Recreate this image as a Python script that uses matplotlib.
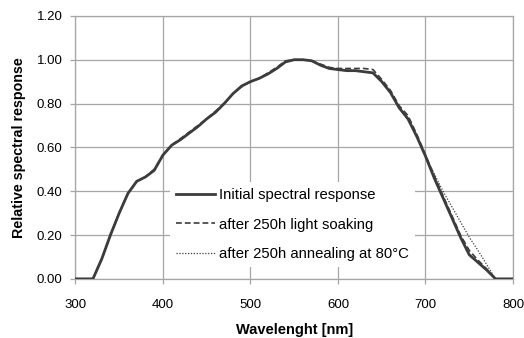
import matplotlib
matplotlib.use("Agg")
import matplotlib.pyplot as plt

plt.rcParams['font.family'] = ['Liberation Sans', 'DejaVu Sans']

# spectral response curves, wavelength in nm
wavelength = [300, 310, 320, 330, 340, 350, 360, 370, 380, 390,
              400, 410, 420, 430, 440, 450, 460, 470, 480, 490,
              500, 510, 520, 530, 540, 550, 560, 570, 580, 590,
              600, 610, 620, 630, 640, 650, 660, 670, 680, 690,
              700, 710, 720, 730, 740, 750, 760, 770, 780, 790, 800]
initial = [0, 0, 0, 0.09, 0.20, 0.30, 0.39, 0.445, 0.465, 0.495,
           0.565, 0.61, 0.635, 0.665, 0.695, 0.73, 0.76, 0.80, 0.845, 0.88,
           0.90, 0.915, 0.935, 0.96, 0.99, 1.0, 1.0, 0.995, 0.975, 0.96,
           0.955, 0.95, 0.95, 0.945, 0.94, 0.90, 0.85, 0.78, 0.73, 0.65,
           0.56, 0.46, 0.37, 0.28, 0.19, 0.11, 0.075, 0.04, 0.0, 0, 0]
light_soak = [0, 0, 0, 0.09, 0.20, 0.30, 0.39, 0.445, 0.465, 0.50,
              0.565, 0.61, 0.64, 0.67, 0.70, 0.73, 0.765, 0.80, 0.845, 0.88,
              0.90, 0.915, 0.94, 0.965, 0.995, 1.0, 1.0, 0.995, 0.98, 0.965,
              0.96, 0.96, 0.96, 0.96, 0.955, 0.91, 0.86, 0.79, 0.745, 0.66,
              0.565, 0.47, 0.38, 0.29, 0.20, 0.13, 0.085, 0.045, 0.0, 0, 0]
annealed = [0, 0, 0, 0.10, 0.21, 0.30, 0.39, 0.445, 0.465, 0.50,
            0.565, 0.61, 0.635, 0.665, 0.695, 0.73, 0.76, 0.80, 0.845, 0.875,
            0.90, 0.915, 0.935, 0.96, 0.99, 1.0, 1.0, 0.995, 0.975, 0.96,
            0.955, 0.955, 0.95, 0.945, 0.94, 0.90, 0.85, 0.78, 0.73, 0.65,
            0.56, 0.48, 0.40, 0.33, 0.26, 0.19, 0.13, 0.065, 0.0, 0, 0]

y_ticks = [0.0, 0.2, 0.4, 0.6, 0.8, 1.0, 1.2]
x_ticks = [300, 400, 500, 600, 700, 800]

fig = plt.figure(figsize=(5.24, 3.38), dpi=100)
ax = fig.add_axes([0.144, 0.175, 0.835, 0.778])

line_col = '#3c3c3c'
ax.plot(wavelength, initial, color=line_col, lw=2.0, ls='-',
        label='Initial spectral response', zorder=4)
ax.plot(wavelength, light_soak, color=line_col, lw=1.2, ls=(0, (3.5, 1.8)),
        label='after 250h light soaking', zorder=3)
ax.plot(wavelength, annealed, color=line_col, lw=0.9, ls=(0, (1, 1.3)),
        label='after 250h annealing at 80°C', zorder=3)

ax.set_xlim(300, 800)
ax.set_ylim(0, 1.2)
ax.set_xticks(x_ticks)
ax.set_yticks(y_ticks)
ax.set_yticklabels([f'{v:.2f}' for v in y_ticks])
ax.grid(True, color='#a6a6a6', lw=0.9)
ax.set_axisbelow(True)
for s in ax.spines.values():
    s.set_color('#a6a6a6')
    s.set_linewidth(0.9)
ax.tick_params(colors='#a6a6a6', labelcolor='black', labelsize=9.5,
               length=3.3, width=0.9)
ax.tick_params(axis='x', pad=11)
ax.tick_params(axis='y', pad=6)

ax.set_xlabel('Wavelenght [nm]', fontsize=10.5, fontweight='bold', labelpad=9)
ax.set_ylabel('Relative spectral response', fontsize=10.3, fontweight='bold',
              labelpad=8)

leg = ax.legend(loc='center', bbox_to_anchor=(0.496, 0.206), fontsize=10.7,
                frameon=True, fancybox=False, facecolor='white',
                edgecolor='none', framealpha=1, handlelength=2.6,
                handletextpad=0.25, labelspacing=1.05, borderpad=0.4)
leg.set_zorder(5)

fig.savefig('out.png', dpi=100)
